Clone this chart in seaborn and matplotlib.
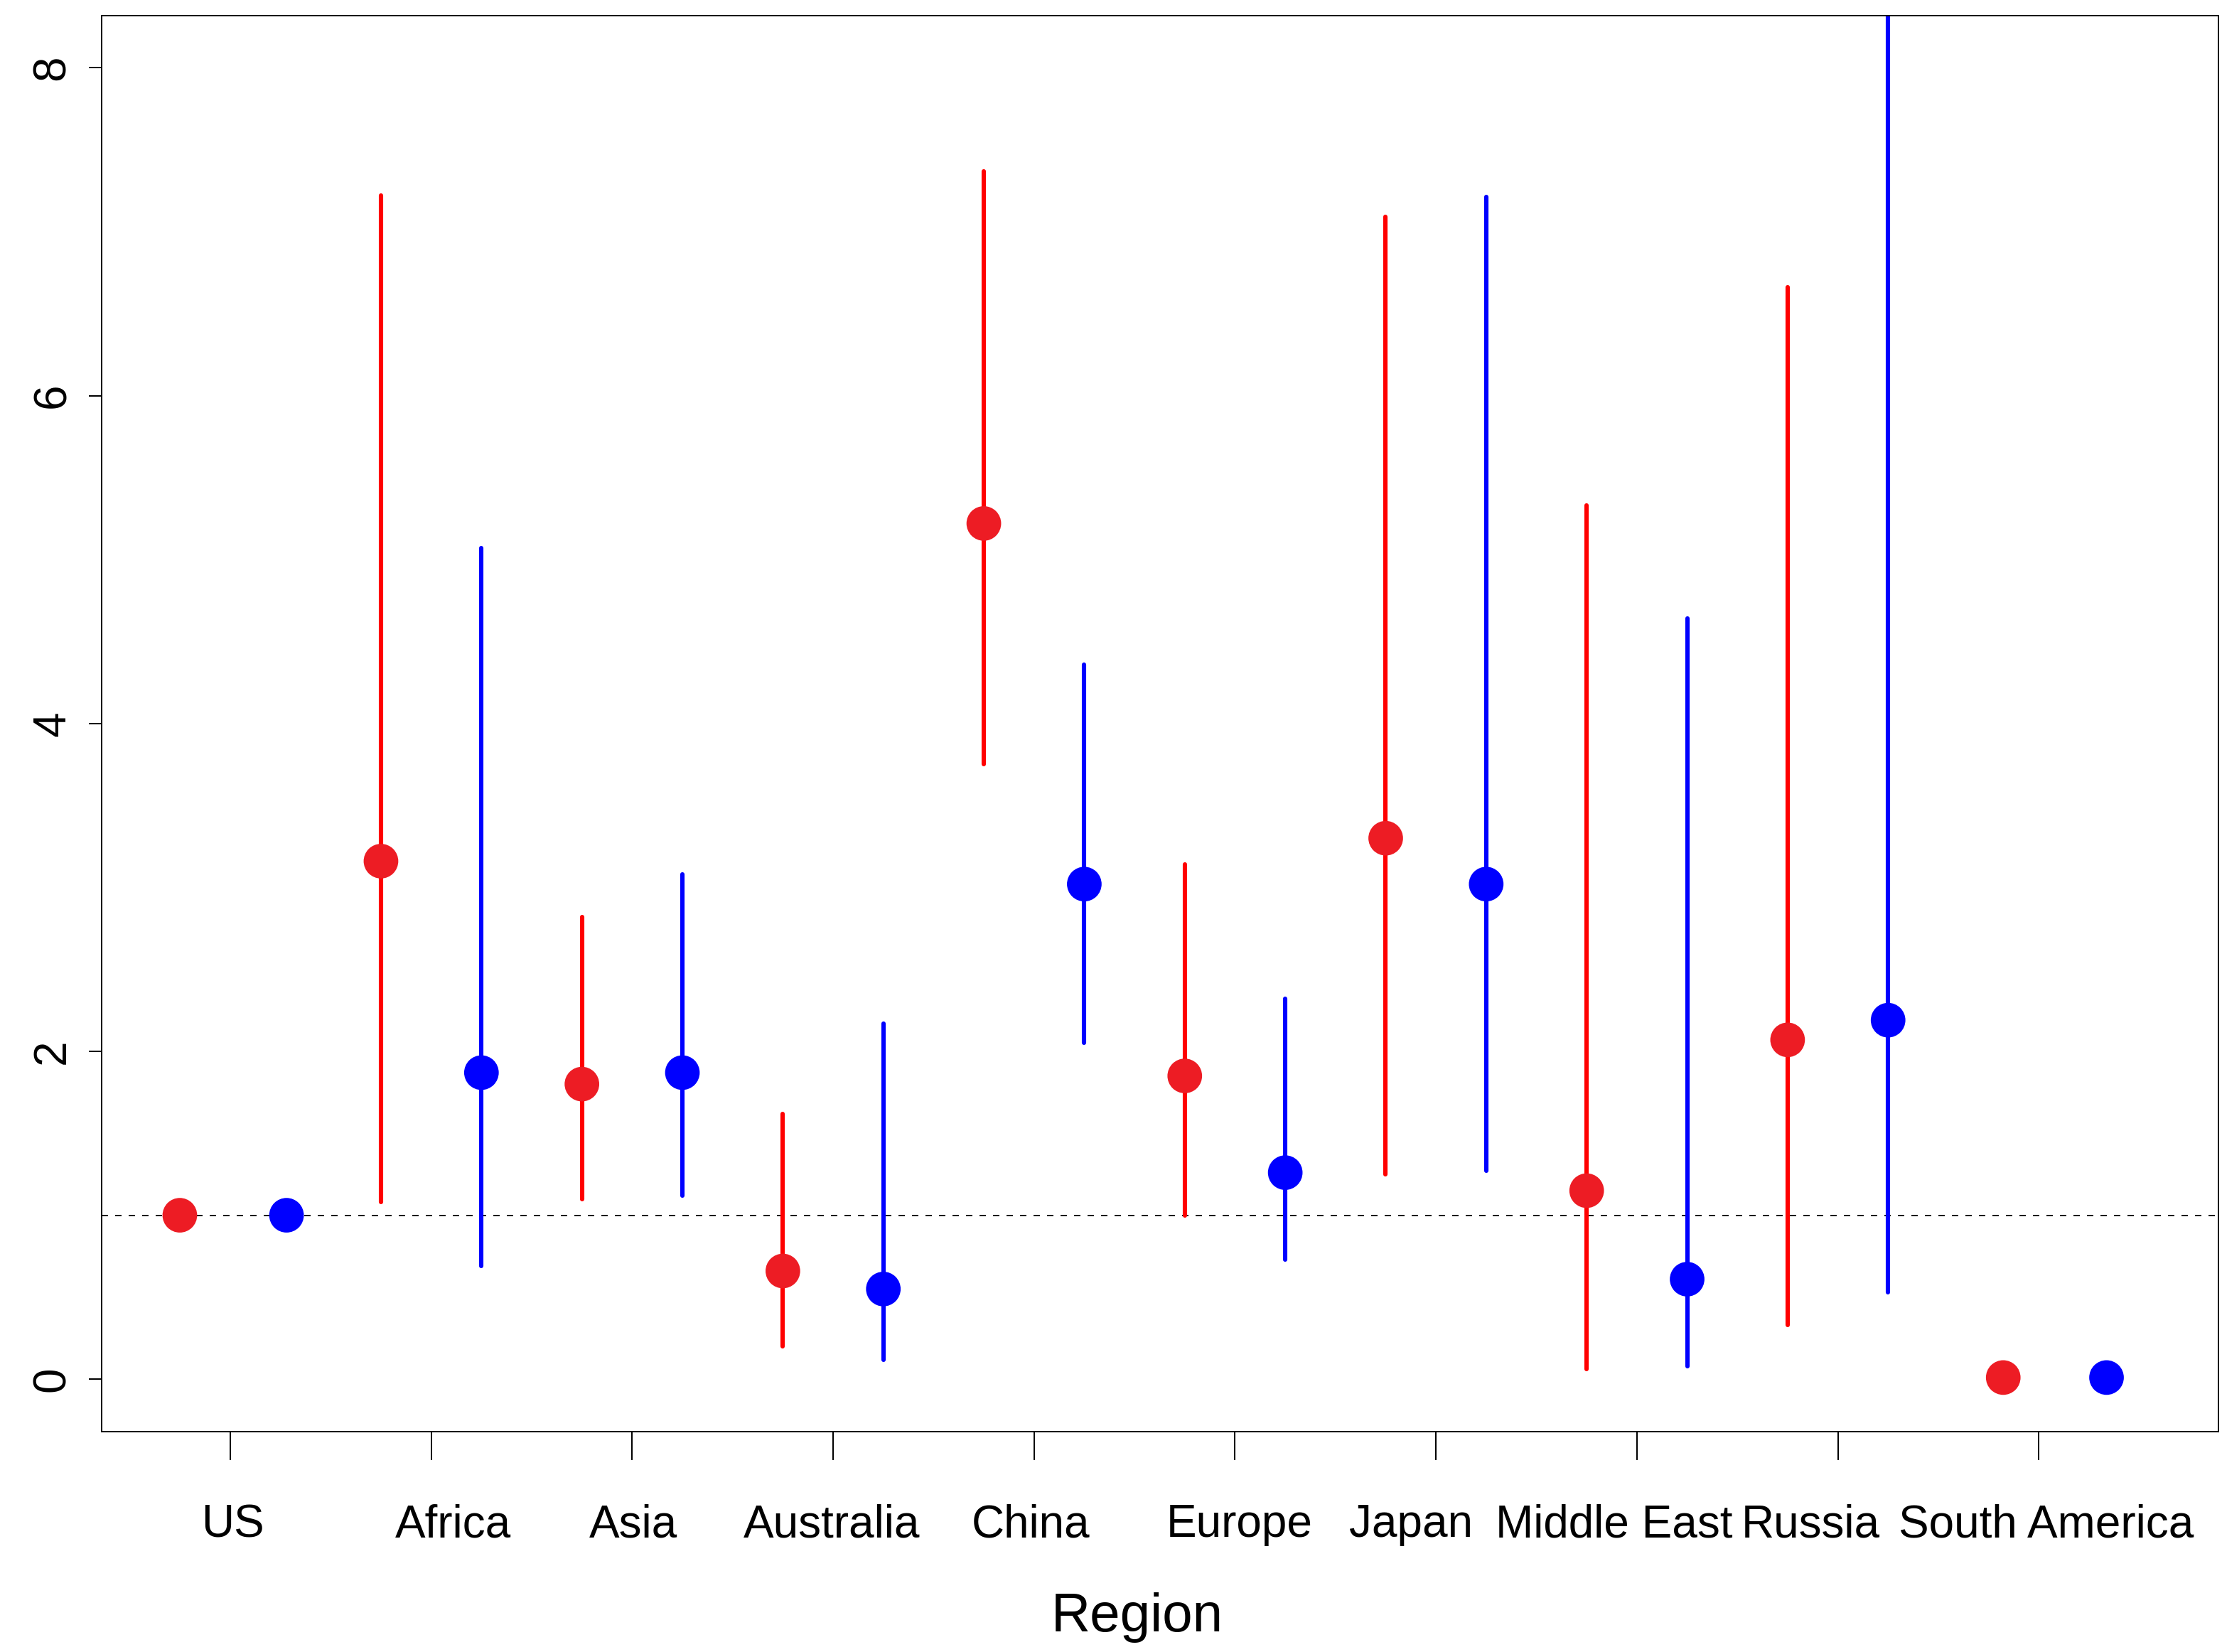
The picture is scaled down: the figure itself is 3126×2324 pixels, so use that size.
import numpy as np
import pandas as pd
import matplotlib
matplotlib.use("Agg")
import matplotlib.pyplot as plt
import seaborn as sns

# ---------------- data ----------------
regions = ["US", "Africa", "Asia", "Australia", "China", "Europe",
           "Japan", "Middle East", "Russia", "South America"]

red_est = [1.00, 3.16, 1.80, 0.66, 5.22, 1.85, 3.30, 1.15, 2.07, 0.01]
red_lo = [np.nan, 1.08, 1.10, 0.20, 3.75, 1.00, 1.25, 0.06, 0.33, np.nan]
red_hi = [np.nan, 7.22, 2.82, 1.62, 7.37, 3.14, 7.09, 5.33, 6.66, np.nan]

blue_est = [1.00, 1.87, 1.87, 0.55, 3.02, 1.26, 3.02, 0.61, 2.19, 0.01]
blue_lo = [np.nan, 0.69, 1.12, 0.12, 2.05, 0.73, 1.27, 0.08, 0.53, np.nan]
blue_hi = [np.nan, 5.07, 3.08, 2.17, 4.36, 2.32, 7.21, 4.64, 9.00, np.nan]

y_ticks = [0, 2, 4, 6, 8]
reference_value = 1.0
x_title = "Region"

# ---------------- layout / style (not data) ----------------
red_offset = [-0.251, -0.25, -0.25, -0.25, -0.25, -0.25, -0.25, -0.25, -0.25, -0.177]
blue_offset = [0.28, 0.25, 0.25, 0.25, 0.25, 0.25, 0.25, 0.25, 0.25, 0.337]
label_shift = [0.014, 0.11, 0.007, -0.007, -0.016, 0.021, -0.124, -0.115, -0.135, 0.0375]

RED_PT = "#ED1C24"
RED_LN = "#FF0000"
BLUE = "#0000FF"

plt.rcParams["font.family"] = ["Liberation Sans", "DejaVu Sans"]

idx = np.arange(len(regions))
df = pd.DataFrame({
    "region": regions * 2,
    "group": ["red"] * len(regions) + ["blue"] * len(regions),
    "xpos": np.concatenate([idx + np.array(red_offset), idx + np.array(blue_offset)]),
    "est": red_est + blue_est,
    "lo": red_lo + blue_lo,
    "hi": red_hi + blue_hi,
})

fig = plt.figure(figsize=(31.26, 23.24), dpi=100)
ax = fig.add_axes([143 / 3126, 1 - 2014 / 2324, (3121 - 143) / 3126, (2014 - 21.5) / 2324])

# reference dashed line
ax.axhline(reference_value, color="black", lw=1.44, ls=(0, (4.5, 5)), zorder=1)

# confidence intervals
for grp, col in [("red", RED_LN), ("blue", BLUE)]:
    sub = df[(df.group == grp) & df.lo.notna()]
    lc = ax.vlines(sub.xpos, sub.lo, sub.hi, colors=col, linewidth=4.4, zorder=2)
    lc.set_capstyle("round")

# point estimates
sns.scatterplot(data=df, x="xpos", y="est", hue="group",
                palette={"red": RED_PT, "blue": BLUE},
                s=1230, linewidth=0, legend=False, ax=ax, zorder=3)

ax.set_xlim(-0.640, 9.894)
ax.set_ylim(-0.32, 8.32)

# ticks: minor = tick marks at categories, major = labels
ax.set_xticks(idx, minor=True)
ax.set_xticks(idx + np.array(label_shift))
ax.set_xticklabels(regions)
ax.tick_params(axis="x", which="major", length=0, pad=73, labelsize=46)
ax.tick_params(axis="x", which="minor", length=28.8, width=1.44, color="black")

ax.set_yticks(y_ticks)
ax.set_yticklabels([str(v) for v in y_ticks])
ax.tick_params(axis="y", length=13, width=1.44, pad=15, labelsize=46, labelrotation=90)
for lab in ax.get_yticklabels():
    lab.set_va("center")

for sp in ax.spines.values():
    sp.set_linewidth(1.44)
    sp.set_color("black")

ax.set_xlabel("")
ax.set_ylabel("")
fig.text(1600 / 3126, 1 - 2295 / 2324, x_title, ha="center", va="baseline", fontsize=55)

fig.savefig("out.png", dpi=100, facecolor="white")
